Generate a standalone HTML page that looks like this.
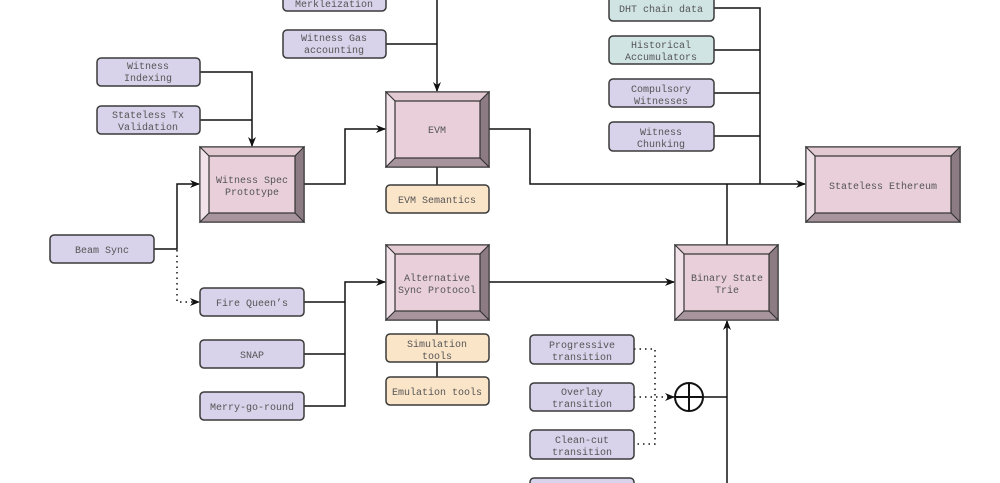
<!DOCTYPE html>
<html><head><meta charset="utf-8"><style>
html,body{margin:0;padding:0;background:#fff;width:1000px;height:483px;overflow:hidden}
svg text{font-family:"Liberation Mono",monospace;font-size:10px;fill:#555;text-anchor:middle}
.p{fill:#d8d2ea;stroke:#3a3a3a;stroke-width:1.5}
.b{fill:#d0e4e4;stroke:#3a3a3a;stroke-width:1.5}
.o{fill:#fbe5c9;stroke:#3a3a3a;stroke-width:1.5}
.l{fill:none;stroke:#111;stroke-width:1.5}
.d{fill:none;stroke:#111;stroke-width:1.5;stroke-dasharray:1.5 4}
.bo{fill:#e8cfd9;stroke:#333;stroke-width:1.5}
.bt{fill:#e2c9d2;stroke:#333;stroke-width:1}
.bl{fill:#f0e2e8;stroke:#333;stroke-width:1}
.br{fill:#8c7b83;stroke:#333;stroke-width:1}
.bb{fill:#a8949c;stroke:#333;stroke-width:1}
.bi{fill:#e8cfd9;stroke:#333;stroke-width:1.2}
</style></head><body>
<svg width="1000" height="483" viewBox="0 0 1000 483" xmlns="http://www.w3.org/2000/svg">
<defs><marker id="a" markerWidth="10" markerHeight="8" refX="9" refY="4" orient="auto" markerUnits="userSpaceOnUse"><path d="M0,0 L10,4 L0,8 L3,4 Z" fill="#111"/></marker></defs>

<!-- connectors -->
<path class="l" d="M437,0 V91" marker-end="url(#a)"/>
<path class="l" d="M386,44 H437"/>
<path class="l" d="M200,72 H252 V146" marker-end="url(#a)"/>
<path class="l" d="M200,120 H252"/>
<path class="l" d="M154,249 H177 V184 H199" marker-end="url(#a)"/>
<path class="d" d="M177,250 V302 H199" marker-end="url(#a)"/>
<path class="l" d="M304,184 H345 V129 H385" marker-end="url(#a)"/>
<path class="l" d="M489,129 H530 V184 H805" marker-end="url(#a)"/>
<path class="l" d="M714,8 H760 V184 M714,50 H760 M714,93 H760 M714,136 H760"/>
<path class="l" d="M727,245 V184"/>
<path class="l" d="M437,167 V185"/>
<path class="l" d="M304,302 H345 M304,354 H345 M304,406 H345 V282 H385" marker-end="url(#a)"/>
<path class="l" d="M489,282 H674" marker-end="url(#a)"/>
<path class="l" d="M437,320 V334 M437,362 V377"/>
<path class="d" d="M634,349 H655 V444 H634"/>
<path class="d" d="M634,397 H674" marker-end="url(#a)"/>
<circle cx="689" cy="397" r="14" fill="#fff" stroke="#111" stroke-width="2"/>
<path class="l" d="M675,397 H703 M689,383 V411" style="stroke-width:2"/>
<path class="l" d="M703,397 H727"/>
<path class="l" d="M727,483 V321" marker-end="url(#a)"/>

<!-- plain boxes -->
<rect class="p" x="283" y="-8" width="103" height="19" rx="4"/><text x="334" y="7">Merkleization</text>
<rect class="p" x="283" y="30" width="103" height="28" rx="4"/><text x="334" y="41">Witness Gas</text><text x="334" y="53">accounting</text>
<rect class="p" x="97" y="58" width="103" height="28" rx="4"/><text x="148" y="69">Witness</text><text x="148" y="81">Indexing</text>
<rect class="p" x="97" y="106" width="103" height="28" rx="4"/><text x="148" y="118">Stateless Tx</text><text x="148" y="130">Validation</text>
<rect class="p" x="50" y="235" width="104" height="28" rx="4"/><text x="102" y="253">Beam Sync</text>
<rect class="p" x="200" y="288" width="104" height="28" rx="4"/><text x="252" y="306">Fire Queen’s</text>
<rect class="p" x="200" y="340" width="104" height="28" rx="4"/><text x="252" y="358">SNAP</text>
<rect class="p" x="200" y="392" width="104" height="28" rx="4"/><text x="252" y="410">Merry-go-round</text>
<rect class="b" x="609" y="-6" width="105" height="27" rx="4"/><text x="661" y="12">DHT chain data</text>
<rect class="b" x="609" y="36" width="105" height="28" rx="4"/><text x="661" y="48">Historical</text><text x="661" y="60">Accumulators</text>
<rect class="p" x="609" y="79" width="105" height="28" rx="4"/><text x="661" y="92">Compulsory</text><text x="661" y="104">Witnesses</text>
<rect class="p" x="609" y="122" width="105" height="29" rx="4"/><text x="661" y="135">Witness</text><text x="661" y="147">Chunking</text>
<rect class="o" x="386" y="185" width="103" height="28" rx="4"/><text x="437" y="203">EVM Semantics</text>
<rect class="o" x="386" y="334" width="103" height="28" rx="4"/><text x="437" y="347">Simulation</text><text x="437" y="359">tools</text>
<rect class="o" x="386" y="377" width="103" height="28" rx="4"/><text x="437" y="395">Emulation tools</text>
<rect class="p" x="530" y="335" width="104" height="29" rx="4"/><text x="582" y="348">Progressive</text><text x="582" y="360">transition</text>
<rect class="p" x="530" y="383" width="104" height="28" rx="4"/><text x="582" y="395">Overlay</text><text x="582" y="407">transition</text>
<rect class="p" x="530" y="430" width="104" height="29" rx="4"/><text x="582" y="443">Clean-cut</text><text x="582" y="455">transition</text>
<rect class="p" x="530" y="478" width="104" height="28" rx="4"/>

<!-- bevel: Witness Spec Prototype -->
<rect class="bo" x="200" y="147" width="104" height="75"/>
<polygon class="bt" points="200,147 304,147 295,156 209,156"/>
<polygon class="bl" points="200,147 209,156 209,213 200,222"/>
<polygon class="br" points="304,147 304,222 295,213 295,156"/>
<polygon class="bb" points="200,222 209,213 295,213 304,222"/>
<rect class="bi" x="209" y="156" width="86" height="57"/>
<text x="252" y="183">Witness Spec</text><text x="252" y="195">Prototype</text>
<!-- EVM -->
<rect class="bo" x="386" y="92" width="103" height="75"/>
<polygon class="bt" points="386,92 489,92 480,101 395,101"/>
<polygon class="bl" points="386,92 395,101 395,158 386,167"/>
<polygon class="br" points="489,92 489,167 480,158 480,101"/>
<polygon class="bb" points="386,167 395,158 480,158 489,167"/>
<rect class="bi" x="395" y="101" width="85" height="57"/>
<text x="437" y="133">EVM</text>
<!-- Alternative Sync Protocol -->
<rect class="bo" x="386" y="245" width="103" height="75"/>
<polygon class="bt" points="386,245 489,245 480,254 395,254"/>
<polygon class="bl" points="386,245 395,254 395,311 386,320"/>
<polygon class="br" points="489,245 489,320 480,311 480,254"/>
<polygon class="bb" points="386,320 395,311 480,311 489,320"/>
<rect class="bi" x="395" y="254" width="85" height="57"/>
<text x="437" y="281">Alternative</text><text x="437" y="293">Sync Protocol</text>
<!-- Binary State Trie -->
<rect class="bo" x="675" y="245" width="103" height="75"/>
<polygon class="bt" points="675,245 778,245 769,254 684,254"/>
<polygon class="bl" points="675,245 684,254 684,311 675,320"/>
<polygon class="br" points="778,245 778,320 769,311 769,254"/>
<polygon class="bb" points="675,320 684,311 769,311 778,320"/>
<rect class="bi" x="684" y="254" width="85" height="57"/>
<text x="727" y="281">Binary State</text><text x="727" y="293">Trie</text>
<!-- Stateless Ethereum -->
<rect class="bo" x="806" y="147" width="154" height="75"/>
<polygon class="bt" points="806,147 960,147 951,156 815,156"/>
<polygon class="bl" points="806,147 815,156 815,213 806,222"/>
<polygon class="br" points="960,147 960,222 951,213 951,156"/>
<polygon class="bb" points="806,222 815,213 951,213 960,222"/>
<rect class="bi" x="815" y="156" width="136" height="57"/>
<text x="883" y="189">Stateless Ethereum</text>
</svg>
</body></html>
